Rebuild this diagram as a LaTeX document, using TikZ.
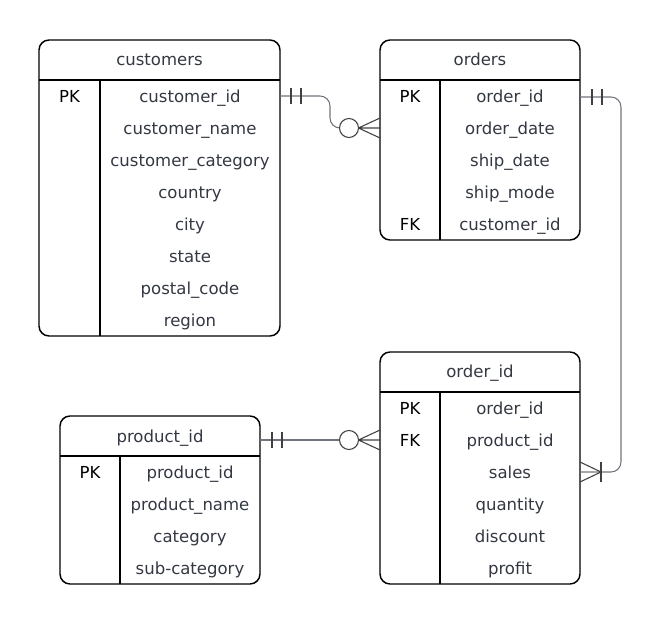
\documentclass[tikz,border=0pt]{standalone}
\usepackage{fontspec}
\setmainfont{DejaVu Sans}
\usetikzlibrary{positioning,calc}
\definecolor{FieldGray}{RGB}{52,56,66}
\definecolor{LinkGray}{RGB}{112,116,124}

\tikzset{
	tbl/.style={line width=1.1pt, rounded corners=7.5pt},
	sep/.style={line width=1.1pt},
	field/.style={text=FieldGray, font=\fontsize{12.4}{14}\selectfont, inner sep=0pt, text height=9pt, text depth=0pt},
	keytag/.style={field, text=black},
	link/.style={LinkGray, line width=0.8pt},
	bar/.style={black!75, line width=0.8pt}
}

\begin{document}
\begin{tikzpicture}[x=0.75pt, y=-0.75pt]
	\useasboundingbox (0,0) rectangle (661,624);
	% customers
	\draw[tbl] (39,40) rectangle (280,336);
	\draw[sep] (39,80) -- (280,80);
	\draw[sep] (100,80) -- (100,336);
	\node[field] (customers) at (159.5,60) {customers};
	\node[keytag] (custpk) at (69.5,96.5) {PK};
	\foreach \f [count=\i] in {customer\_id,customer\_name,customer\_category,country,city,state,postal\_code,region}
		\node[field] (cust\i) at (190,64.5+32*\i) {\f};
	% orders
	\draw[tbl] (380,40) rectangle (580,240);
	\draw[sep] (380,80) -- (580,80);
	\draw[sep] (440,80) -- (440,240);
	\node[field] (orders) at (480,60) {orders};
	\node[keytag] (ordpk) at (410,96.5) {PK};
	\node[keytag] (ordfk) at (410,224.5) {FK};
	\foreach \f [count=\i] in {order\_id,order\_date,ship\_date,ship\_mode,customer\_id}
		\node[field] (ord\i) at (510,64.5+32*\i) {\f};
	% order_id
	\draw[tbl] (380,352) rectangle (580,584);
	\draw[sep] (380,392) -- (580,392);
	\draw[sep] (440,392) -- (440,584);
	\node[field] (orderid) at (480,372) {order\_id};
	\node[keytag] (oipk) at (410,408) {PK};
	\node[keytag] (oifk) at (410,440) {FK};
	\foreach \f [count=\i] in {order\_id,product\_id,sales,quantity,discount,profit}
		\node[field] (oi\i) at (510,376+32*\i) {\f};
	% product_id
	\draw[tbl] (60,416) rectangle (260,584);
	\draw[sep] (60,456) -- (260,456);
	\draw[sep] (120,456) -- (120,584);
	\node[field] (productid) at (160,436) {product\_id};
	\node[keytag] (prpk) at (90,472) {PK};
	\foreach \f [count=\i] in {product\_id,product\_name,category,sub-category}
		\node[field] (pr\i) at (190,440+32*\i) {\f};

	% link ends
	\coordinate (CustOut) at (280,96);
	\coordinate (OrdIn) at (380,128);
	\coordinate (OrdOut) at (580,97);
	\coordinate (SalesIn) at (580,472);
	\coordinate (ProdOut) at (260,440);
	\coordinate (OiIn) at (380,440);

	% customers -> orders
	\draw[link, rounded corners=7.5pt] (CustOut) -- (330,96) -- (330,128) -- (339.5,128);
	\draw[bar] (291,88) -- (291,104) (301,88) -- (301,104);
	\draw[bar] (349,128) circle (9.5);
	\draw[bar] (358.5,128) -- (OrdIn) (358.5,128) -- ($(OrdIn)+(0,-10)$) (358.5,128) -- ($(OrdIn)+(0,10)$);
	% orders -> order_id
	\draw[link, rounded corners=7.5pt] (OrdOut) -- (621,97) -- (621,472) -- (SalesIn);
	\draw[bar] (592,89) -- (592,105) (602,89) -- (602,105);
	\draw[bar] (601,462) -- (601,482);
	\draw[bar] (601,472) -- ($(SalesIn)+(0,-10)$) (601,472) -- ($(SalesIn)+(0,10)$);
	% product_id -> order_id
	\draw[link] (ProdOut) -- (339.5,440);
	\draw[bar] (272,432) -- (272,448) (282,432) -- (282,448);
	\draw[bar] (349,440) circle (9.5);
	\draw[bar] (358.5,440) -- (OiIn) (358.5,440) -- ($(OiIn)+(0,-10)$) (358.5,440) -- ($(OiIn)+(0,10)$);
\end{tikzpicture}
\end{document}
